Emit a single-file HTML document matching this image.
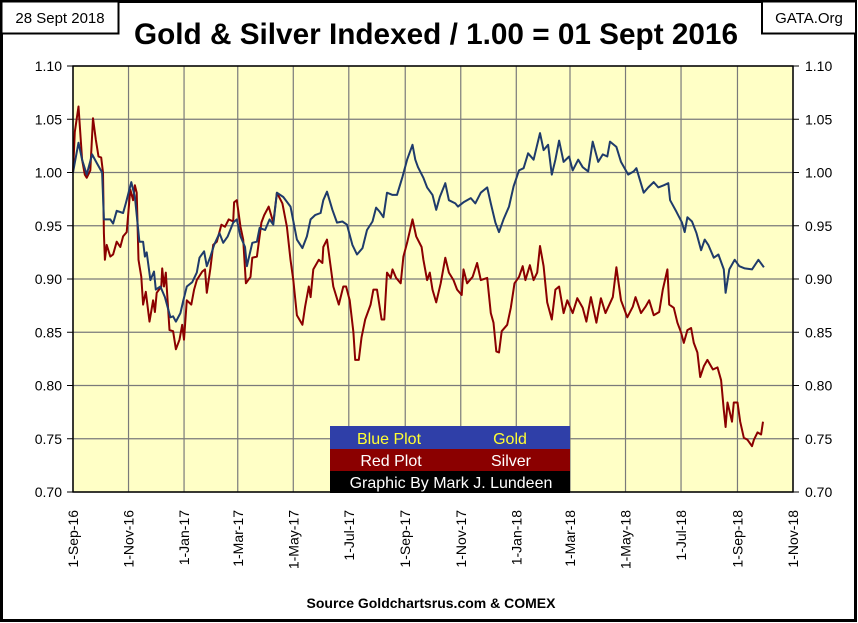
<!DOCTYPE html>
<html><head><meta charset="utf-8"><style>
html,body{margin:0;padding:0;background:#fff;}
svg{display:block;}
</style></head><body>
<svg id="chart" width="858" height="623" xmlns="http://www.w3.org/2000/svg">
<rect x="1.5" y="1.5" width="854" height="619" fill="#fff" stroke="#000" stroke-width="3"/>
<rect x="1.5" y="1.5" width="117" height="32" fill="#fff" stroke="#000" stroke-width="2"/>
<text x="60" y="23" text-anchor="middle" font-family="Liberation Sans Narrow, Liberation Sans, sans-serif" font-size="15">28 Sept 2018</text>
<rect x="762" y="1.5" width="94" height="32" fill="#fff" stroke="#000" stroke-width="2"/>
<text x="809" y="23" text-anchor="middle" font-family="Liberation Sans Narrow, Liberation Sans, sans-serif" font-size="15">GATA.Org</text>
<text x="436" y="44" text-anchor="middle" font-family="Liberation Sans Narrow, Liberation Sans, sans-serif" font-weight="bold" font-size="30" textLength="604" lengthAdjust="spacingAndGlyphs">Gold &amp; Silver Indexed / 1.00 = 01 Sept 2016</text>
<rect x="73" y="66" width="720" height="426" fill="#ffffc6"/>
<g id="grid"></g>
<g id="series"></g>
<rect x="73" y="66" width="720" height="426" fill="none" stroke="#000" stroke-width="1.5"/>
<g id="axes" font-family="Liberation Sans, sans-serif" font-size="14" fill="#000"></g>
<g font-family="Liberation Sans, sans-serif" font-size="16">
<rect x="330" y="426" width="240" height="23" fill="#2f3fa8"/>
<text x="389" y="444" text-anchor="middle" fill="#ffff33">Blue Plot</text>
<text x="510" y="444" text-anchor="middle" fill="#ffff33">Gold</text>
<rect x="330" y="449" width="240" height="22" fill="#8b0000"/>
<text x="391" y="466" text-anchor="middle" fill="#fff">Red Plot</text>
<text x="511" y="466" text-anchor="middle" fill="#fff">Silver</text>
<rect x="330" y="471" width="240" height="22" fill="#000"/>
<text x="451" y="488" text-anchor="middle" fill="#fff">Graphic By Mark J. Lundeen</text>
</g>
<text x="431" y="608" text-anchor="middle" font-family="Liberation Sans, sans-serif" font-weight="bold" font-size="14">Source Goldchartsrus.com &amp; COMEX</text>
</svg>
<script>
const yTicks=[0.70,0.75,0.80,0.85,0.90,0.95,1.00,1.05,1.10];
const xTickLabels=["1-Sep-16","1-Nov-16","1-Jan-17","1-Mar-17","1-May-17","1-Jul-17","1-Sep-17","1-Nov-17","1-Jan-18","1-Mar-18","1-May-18","1-Jul-18","1-Sep-18","1-Nov-18"];
const xTickDays=[0,61,122,181,242,303,365,426,487,546,607,668,730,791];
const goldDays=[0,6,10,15,21,26,32,34,41,44,
48,55,58,64,68,73,77,79,81,85,
89,91,96,101,107,110,113,118,121,125,
131,136,139,144,147,151,155,161,165,170,
176,180,184,189,191,197,202,205,211,216,
220,224,231,239,246,252,257,261,266,272,
275,279,285,290,296,301,307,312,318,323,
329,333,337,341,345,351,356,362,367,373,
376,379,385,389,395,399,403,409,413,420,
423,429,437,442,448,455,459,464,468,473,
479,484,490,495,500,506,513,517,522,526,
530,534,539,545,549,555,560,566,571,577,
582,587,590,597,602,610,616,619,627,632,
638,643,649,654,656,663,669,672,675,680,
685,690,694,698,704,709,715,717,721,727,
732,738,746,753,759];
const goldVals=[1.000,1.028,1.012,0.998,1.017,1.009,1.000,0.956,0.956,0.952,
0.964,0.962,0.971,0.991,0.977,0.935,0.935,0.921,0.925,0.899,
0.907,0.890,0.893,0.883,0.864,0.865,0.860,0.868,0.879,0.893,
0.897,0.906,0.920,0.926,0.912,0.921,0.932,0.943,0.934,0.940,
0.953,0.956,0.940,0.930,0.912,0.934,0.935,0.948,0.946,0.956,
0.951,0.981,0.977,0.968,0.937,0.929,0.940,0.956,0.960,0.962,
0.974,0.982,0.965,0.953,0.954,0.951,0.932,0.923,0.929,0.946,
0.954,0.967,0.963,0.958,0.981,0.979,0.979,0.996,1.012,1.026,
1.012,1.005,0.995,0.986,0.979,0.965,0.977,0.990,0.974,0.971,
0.968,0.972,0.976,0.971,0.981,0.986,0.971,0.953,0.944,0.956,
0.968,0.987,1.002,1.004,1.018,1.012,1.037,1.021,1.026,0.998,
1.012,1.030,1.010,1.015,1.002,1.012,1.005,1.001,1.029,1.010,
1.017,1.015,1.029,1.024,1.010,0.998,1.001,1.004,0.981,0.986,
0.991,0.986,0.988,0.990,0.974,0.963,0.953,0.944,0.958,0.954,
0.943,0.927,0.937,0.932,0.920,0.923,0.909,0.887,0.909,0.918,
0.912,0.910,0.909,0.918,0.911];
const silverDays=[0,2,6,10,13,15,19,22,25,28,
31,33,34,35,37,41,44,48,52,55,
59,63,66,68,70,72,75,77,80,84,
88,90,92,97,98,100,102,106,110,113,
117,120,122,125,130,133,136,142,145,147,
151,154,158,163,167,171,176,177,180,184,
187,190,195,197,202,207,210,215,220,224,
230,235,239,242,246,252,255,259,261,264,
270,274,275,279,283,286,292,297,300,304,
308,310,314,317,321,327,330,334,339,342,
345,349,351,355,360,363,367,373,377,383,
385,389,392,395,399,404,409,413,418,422,
427,429,433,439,444,448,455,459,462,465,
468,471,477,481,485,490,494,497,502,506,
510,513,517,521,526,530,534,539,543,549,
554,560,564,569,575,580,585,593,597,602,
609,615,618,624,629,633,638,644,648,653,
655,660,664,668,671,675,679,682,686,689,
693,697,703,708,712,715,717,719,724,726,
730,733,737,741,746,748,752,756,758];
const silverVals=[1.000,1.038,1.062,1.012,0.998,0.995,1.002,1.051,1.031,1.015,
1.014,1.000,0.943,0.918,0.932,0.921,0.923,0.935,0.930,0.940,
0.944,0.984,0.974,0.988,0.981,0.918,0.902,0.876,0.888,0.860,
0.880,0.869,0.887,0.893,0.910,0.893,0.906,0.852,0.851,0.834,
0.843,0.857,0.843,0.880,0.876,0.890,0.899,0.907,0.909,0.887,
0.910,0.932,0.935,0.951,0.949,0.956,0.954,0.972,0.974,0.949,
0.937,0.896,0.902,0.920,0.921,0.953,0.960,0.968,0.953,0.981,
0.971,0.949,0.918,0.899,0.866,0.857,0.874,0.893,0.883,0.909,
0.918,0.915,0.930,0.937,0.912,0.893,0.876,0.893,0.893,0.880,
0.850,0.824,0.824,0.845,0.862,0.876,0.890,0.890,0.862,0.862,
0.906,0.901,0.909,0.901,0.896,0.921,0.934,0.956,0.940,0.930,
0.918,0.899,0.906,0.890,0.878,0.896,0.920,0.906,0.899,0.890,
0.885,0.909,0.896,0.902,0.915,0.899,0.901,0.868,0.859,0.832,
0.831,0.851,0.857,0.873,0.896,0.902,0.912,0.899,0.913,0.899,
0.906,0.931,0.912,0.878,0.862,0.890,0.893,0.868,0.880,0.868,
0.882,0.873,0.860,0.883,0.859,0.882,0.868,0.883,0.911,0.880,
0.864,0.874,0.883,0.868,0.874,0.880,0.866,0.869,0.890,0.909,
0.876,0.873,0.859,0.850,0.840,0.852,0.854,0.840,0.831,0.808,
0.818,0.824,0.815,0.817,0.805,0.777,0.761,0.784,0.766,0.784,
0.784,0.766,0.751,0.749,0.743,0.749,0.756,0.754,0.766];

const NS="http://www.w3.org/2000/svg";
const X0=73,X1=793,Y0=492,Y1=66,DMAX=791,VMIN=0.70,VMAX=1.10;
function xScale(d){return X0+(X1-X0)*d/DMAX;}
function yScale(v){return Y0-(Y0-Y1)*(v-VMIN)/(VMAX-VMIN);}
function mk(tag,attrs,parent){const e=document.createElementNS(NS,tag);for(const k in attrs)e.setAttribute(k,attrs[k]);parent.appendChild(e);return e;}
const grid=document.getElementById('grid'),axes=document.getElementById('axes'),series=document.getElementById('series');
yTicks.forEach(v=>{
  const y=yScale(v);
  const g=mk('line',{x1:X0,x2:X1,y1:y,y2:y,stroke:'#7a7a7a','stroke-width':1.2},grid);
  
  
  mk('line',{x1:X0-6,x2:X0,y1:y,y2:y,stroke:'#000'},axes);
  mk('line',{x1:X1,x2:X1+6,y1:y,y2:y,stroke:'#000'},axes);
  const tl=mk('text',{x:62,y:y+5,'text-anchor':'end'},axes);
  tl.textContent=v.toFixed(2);
  
  
  const tr=mk('text',{x:805,y:y+5,'text-anchor':'start'},axes);
  tr.textContent=v.toFixed(2);
  
  
});
xTickDays.forEach((d,i)=>{
  const x=xScale(d);
  const g=mk('line',{x1:x,x2:x,y1:Y1,y2:Y0,stroke:'#7a7a7a','stroke-width':1.2},grid);
  
  
  const t=mk('text',{x:0,y:0,'text-anchor':'end',transform:`translate(${x+5},${510}) rotate(-90)`},axes);
  t.textContent=xTickLabels[i];
  
  
});
function line(days,vals,color,name){
  const n=Math.min(days.length,vals.length);
  let d='';
  for(let i=0;i<n;i++)d+=(i?'L':'M')+xScale(days[i]).toFixed(1)+','+yScale(vals[i]).toFixed(1);
  const p=mk('path',{d:d,fill:'none',stroke:color,'stroke-width':2,'stroke-linejoin':'round'},series);
  
  
}
line(silverDays,silverVals,'#8b0000','silver-line');
line(goldDays,goldVals,'#1f3b6b','gold-line');
</script>
</body></html>
